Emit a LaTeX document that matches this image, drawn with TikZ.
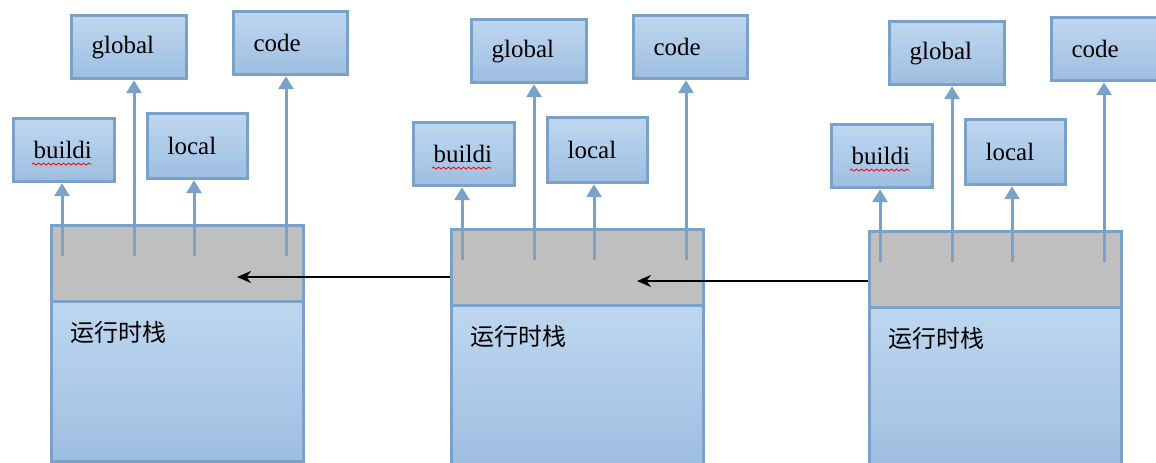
\documentclass[tikz,border=0pt]{standalone}
\usepackage{fontspec}
\setmainfont{Liberation Serif}
\newfontfamily\cjk{Noto Sans CJK SC}
\usetikzlibrary{arrows.meta, decorations.pathmorphing}
\definecolor{boxline}{RGB}{122,161,200}
\definecolor{boxtop}{RGB}{190,215,240}
\definecolor{boxbot}{RGB}{158,190,224}
\definecolor{bandgray}{RGB}{191,191,191}
\tikzset{
  varbox/.style={draw=boxline, line width=1.6pt, top color=boxtop, bottom color=boxbot,
    anchor=north west, inner xsep=10pt, inner ysep=0pt, align=left,
    font=\fontsize{12.5}{15}\selectfont},
  stackband/.style={draw=boxline, line width=1.6pt, fill=bandgray, anchor=north west,
    minimum width=126pt, minimum height=38pt, inner sep=0pt},
  stackbody/.style={draw=boxline, line width=1.6pt, top color=boxtop, bottom color=boxbot,
    anchor=north west, inner sep=0pt},
  uparrow/.style={boxline, line width=1.5pt, -{Triangle[length=6.5pt,width=7.5pt]}},
  callarrow/.style={black, line width=1.2pt, -{Stealth[length=7pt,width=6pt]}},
  squiggle/.style={red, line width=0.4pt, decorate,
    decoration={snake, amplitude=0.5pt, segment length=2.5pt}}
}

\begin{document}
\begin{tikzpicture}[x=0.5pt, y=-0.5pt]
  \useasboundingbox (0,0) rectangle (1156,462);
  % one runtime stack per call
  \foreach \i/\bx/\by in {1/50/224, 2/450/228, 3/868/230} {
    \begin{scope}[shift={(\bx,\by)}]
      \node[stackband] (band\i) at (0,0) {};
      \node[stackbody, minimum width=126pt, minimum height=80pt] (body\i) at (0,76) {};
      \node[anchor=west, inner sep=0pt, font=\cjk\fontsize{12}{14}\selectfont] (lbl\i)
        at ([xshift=10pt,yshift=-16pt]body\i.north west) {运行时栈};
      % scopes
      \node[varbox, text width=30.5pt, minimum height=31.5pt] (buildi\i) at (-38,-107) {buildi};
      \node[varbox, text width=37.5pt, minimum height=31.5pt] (global\i) at (20,-210) {global};
      \node[varbox, text width=30pt, minimum height=32.5pt] (local\i) at (96,-112) {local};
      \node[varbox, text width=37pt, minimum height=31.5pt] (code\i) at (182,-214) {code};
      \draw[squiggle] ([xshift=10pt,yshift=-7pt]buildi\i.west) -- ++(29.5pt,0);
      \foreach \v/\ax in {buildi/12, global/84, local/144, code/236} {
        \coordinate (\v\i-from) at (\ax,32);
        \draw[uparrow] (\v\i-from) -- (\v\i-from |- \v\i.south);
      }
      \coordinate (tip\i) at (187,53);
    \end{scope}
  }
  % links to the previous frame
  \draw[callarrow] (band2.west |- tip1) -- (tip1);
  \draw[callarrow] (band3.west |- tip2) -- (tip2);
\end{tikzpicture}
\end{document}
